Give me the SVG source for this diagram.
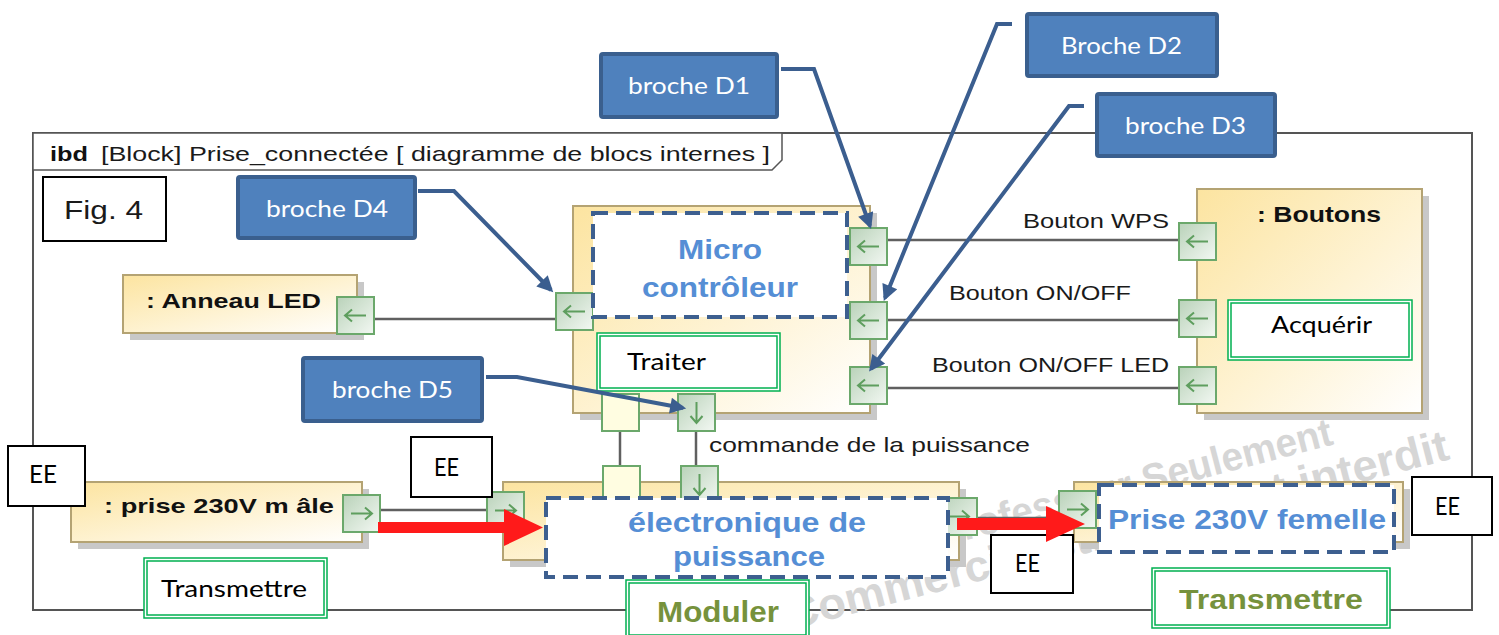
<svg xmlns="http://www.w3.org/2000/svg" width="1499" height="635" viewBox="0 0 1499 635">
<defs>
<linearGradient id="gBlk" x1="0" y1="0" x2="1" y2="1">
<stop offset="0" stop-color="#FCE4A0"/>
<stop offset="0.55" stop-color="#FEF3D4"/>
<stop offset="1" stop-color="#FFFFFF"/>
</linearGradient>
<linearGradient id="gPort" x1="0" y1="0" x2="1" y2="1">
<stop offset="0" stop-color="#B9D2B9"/>
<stop offset="1" stop-color="#F3F8F3"/>
</linearGradient>
<marker id="ah" viewBox="0 0 10 10" refX="8" refY="5" markerWidth="4.5" markerHeight="4" orient="auto" markerUnits="strokeWidth">
<path d="M0,0 L10,5 L0,10 z" fill="#3B5E8F"/>
</marker>
<style>
.frame{fill:none;stroke:#555;stroke-width:2}
.tab{fill:#fff;stroke:#555;stroke-width:1.5}
.shd{fill:#C8C8C8}
.blk{fill:url(#gBlk);stroke:#B4A373;stroke-width:2}
.port{fill:url(#gPort);stroke:#6BA86B;stroke-width:2}
.pplain{fill:#FFFDE1;stroke:#6BA86B;stroke-width:2}
.parr{fill:none;stroke:#5E9E5E;stroke-width:2}
.dash{fill:#fff;stroke:#3D5F8F;stroke-width:4;stroke-dasharray:15 8}
.gb{fill:#fff;stroke:#00B050;stroke-width:1.5}
.gbi{fill:none;stroke:#00B050;stroke-width:1.5}
.ee{fill:#fff;stroke:#000;stroke-width:2}
.call{fill:#4F81BD;stroke:#3A5F8E;stroke-width:4}
.blue{fill:none;stroke:#3B5E8F;stroke-width:4;marker-end:url(#ah)}
.conn{fill:none;stroke:#606060;stroke-width:2.5}
.red{fill:#FF1A1A}
.wm{font-family:"Liberation Sans",Arial,sans-serif;font-weight:bold;fill:#D6D6D6}
.ar{font-family:"Liberation Sans",Arial,sans-serif;fill:#1a1a1a}
.arb{font-family:"Liberation Sans",Arial,sans-serif;font-weight:bold;fill:#111}
.cal{font-family:Lato,"Open Sans",sans-serif;fill:#000}
.calw{font-family:Lato,"Open Sans",sans-serif;fill:#fff;font-size:24px}
.bl{font-family:"Liberation Sans",Arial,sans-serif;font-weight:bold;fill:#558ED5}
.ol{font-family:"Liberation Sans",Arial,sans-serif;font-weight:bold;fill:#76923C}
</style>
</defs>

<rect x="0" y="0" width="1499" height="635" fill="#fff"/>

<g id="frame">
<rect class="frame" x="33" y="133" width="1439" height="477"/>
<path class="tab" d="M33,133 H782 V160 L772,170 H33 Z"/>
<text class="arb" x="50" y="161" font-size="21" textLength="38" lengthAdjust="spacingAndGlyphs">ibd</text>
<text class="ar" x="101" y="161" font-size="21" textLength="669" lengthAdjust="spacingAndGlyphs">[Block] Prise_connectée [ diagramme de blocs internes ]</text>
</g>

<g id="watermark">
<text class="wm" x="940" y="547" font-size="40" transform="rotate(-14.6 940 547)" textLength="408" lengthAdjust="spacingAndGlyphs">Professeur Seulement</text>
<text class="wm" x="790" y="630" font-size="44" transform="rotate(-14.5 790 630)" textLength="683" lengthAdjust="spacingAndGlyphs">Commercial strictement interdit</text>
</g>

<g id="fig4">
<rect class="ee" x="43" y="177" width="123" height="64"/>
<text class="ar" x="64" y="219" font-size="26" fill="#000" textLength="79" lengthAdjust="spacingAndGlyphs">Fig. 4</text>
</g>

<g id="anneau-led">
<rect class="shd" x="130" y="282" width="234" height="58"/>
<rect class="blk" x="123" y="275" width="234" height="58"/>
<text class="arb" x="146" y="308" font-size="21" textLength="175" lengthAdjust="spacingAndGlyphs">: Anneau LED</text>
</g>

<g id="micro-controleur">
<rect class="shd" x="580" y="213" width="297" height="207"/>
<rect class="blk" x="573" y="206" width="297" height="207"/>
</g>

<g id="boutons">
<rect class="shd" x="1204" y="196" width="225" height="224"/>
<rect class="blk" x="1197" y="189" width="225" height="224"/>
<text class="arb" x="1257" y="222" font-size="22" textLength="124" lengthAdjust="spacingAndGlyphs">: Boutons</text>
</g>

<g id="prise-male">
<rect class="shd" x="78" y="489" width="291" height="60"/>
<rect class="blk" x="71" y="482" width="291" height="60"/>
<text class="arb" x="104" y="513" font-size="21" textLength="230" lengthAdjust="spacingAndGlyphs">: prise 230V m âle</text>
</g>

<g id="electronique-block">
<rect class="shd" x="510" y="489" width="456" height="78"/>
<rect class="blk" x="503" y="482" width="456" height="78"/>
</g>

<g id="prise-femelle-block">
<rect class="shd" x="1081" y="489" width="329" height="60"/>
<rect class="blk" x="1074" y="482" width="329" height="60"/>
</g>

<g id="connectors">
<path class="conn" d="M375,319 H556"/>
<path class="conn" d="M887,240 H1179"/>
<path class="conn" d="M887,320 H1179"/>
<path class="conn" d="M887,388 H1179"/>
<path class="conn" d="M620,431 V466"/>
<path class="conn" d="M696,431 V466"/>
<path class="conn" d="M379,510 H487"/>
<path class="conn" d="M977,518 H1059"/>
<text class="ar" x="1023" y="228" font-size="21" textLength="146" lengthAdjust="spacingAndGlyphs">Bouton WPS</text>
<text class="ar" x="949" y="300" font-size="21" textLength="182" lengthAdjust="spacingAndGlyphs">Bouton ON/OFF</text>
<text class="ar" x="932" y="372" font-size="21" textLength="237" lengthAdjust="spacingAndGlyphs">Bouton ON/OFF LED</text>
<text class="ar" x="709" y="452" font-size="21" textLength="321" lengthAdjust="spacingAndGlyphs">commande de la puissance</text>
</g>

<g id="ports">
<rect class="port" x="337" y="297" width="37" height="37"/>
<path class="parr" d="M366,315.5 H345 M352,309.5 L345,315.5 L352,321.5"/>
<rect class="port" x="556" y="293" width="37" height="37"/>
<path class="parr" d="M585,311.5 H564 M571,305.5 L564,311.5 L571,317.5"/>
<rect class="port" x="850" y="228" width="37" height="37"/>
<path class="parr" d="M879,246.5 H858 M865,240.5 L858,246.5 L865,252.5"/>
<rect class="port" x="850" y="302" width="37" height="37"/>
<path class="parr" d="M879,320.5 H858 M865,314.5 L858,320.5 L865,326.5"/>
<rect class="port" x="850" y="367" width="37" height="37"/>
<path class="parr" d="M879,385.5 H858 M865,379.5 L858,385.5 L865,391.5"/>
<rect class="port" x="1179" y="223" width="37" height="37"/>
<path class="parr" d="M1208,241.5 H1187 M1194,235.5 L1187,241.5 L1194,247.5"/>
<rect class="port" x="1179" y="300" width="37" height="37"/>
<path class="parr" d="M1208,318.5 H1187 M1194,312.5 L1187,318.5 L1194,324.5"/>
<rect class="port" x="1179" y="367" width="37" height="37"/>
<path class="parr" d="M1208,385.5 H1187 M1194,379.5 L1187,385.5 L1194,391.5"/>
<rect class="pplain" x="602" y="394" width="37" height="37"/>
<rect class="port" x="678" y="394" width="37" height="37"/>
<path class="parr" d="M696.5,402 V423 M690.5,416 L696.5,423 L702.5,416"/>
<rect class="pplain" x="603" y="466" width="37" height="37"/>
<rect class="port" x="681" y="466" width="37" height="37"/>
<path class="parr" d="M699.5,474 V495 M693.5,488 L699.5,495 L705.5,488"/>
<rect class="port" x="343" y="495" width="37" height="37"/>
<path class="parr" d="M351,513.5 H372 M365,507.5 L372,513.5 L365,519.5"/>
<rect class="port" x="487" y="492" width="37" height="37"/>
<path class="parr" d="M495,510.5 H516 M509,504.5 L516,510.5 L509,516.5"/>
<rect class="port" x="940" y="498" width="37" height="37"/>
<path class="parr" d="M948,516.5 H969 M962,510.5 L969,516.5 L962,522.5"/>
<rect class="port" x="1059" y="491" width="37" height="37"/>
<path class="parr" d="M1067,509.5 H1088 M1081,503.5 L1088,509.5 L1081,515.5"/>
</g>

<g id="micro-label">
<rect class="dash" x="593" y="213" width="254" height="104"/>
<text class="bl" x="678" y="259" font-size="28" textLength="84" lengthAdjust="spacingAndGlyphs">Micro</text>
<text class="bl" x="642" y="297" font-size="28" textLength="156" lengthAdjust="spacingAndGlyphs">contrôleur</text>
</g>

<g id="electronique-label">
<rect class="dash" x="546" y="498" width="402" height="79"/>
<text class="bl" x="628" y="532" font-size="27" textLength="238" lengthAdjust="spacingAndGlyphs">électronique de</text>
<text class="bl" x="673" y="566" font-size="27" textLength="152" lengthAdjust="spacingAndGlyphs">puissance</text>
</g>

<g id="prise-femelle-label">
<rect class="dash" x="1099" y="485" width="295" height="67"/>
<text class="bl" x="1108" y="529" font-size="27" textLength="278" lengthAdjust="spacingAndGlyphs">Prise 230V femelle</text>
</g>

<g id="traiter">
<rect class="gb" x="597" y="333" width="183" height="58"/>
<rect class="gbi" x="600" y="336" width="177" height="52"/>
<text class="cal" x="627" y="370" font-size="23" textLength="79" lengthAdjust="spacingAndGlyphs">Traiter</text>
</g>

<g id="acquerir">
<rect class="gb" x="1228" y="300" width="184" height="60"/>
<rect class="gbi" x="1231" y="303" width="178" height="54"/>
<text class="cal" x="1271" y="333" font-size="23" textLength="101" lengthAdjust="spacingAndGlyphs">Acquérir</text>
</g>

<g id="transmettre-1">
<rect class="gb" x="144" y="558" width="183" height="60"/>
<rect class="gbi" x="147" y="561" width="177" height="54"/>
<text class="cal" x="161" y="597" font-size="23" textLength="146" lengthAdjust="spacingAndGlyphs">Transmettre</text>
</g>

<g id="moduler">
<rect class="gb" x="626" y="580" width="183" height="58"/>
<rect class="gbi" x="629" y="583" width="177" height="52"/>
<text class="ol" x="657" y="622" font-size="29" textLength="122" lengthAdjust="spacingAndGlyphs">Moduler</text>
</g>

<g id="transmettre-2">
<rect class="gb" x="1152" y="568" width="238" height="60"/>
<rect class="gbi" x="1155" y="571" width="232" height="54"/>
<text class="ol" x="1179" y="609" font-size="28" textLength="184" lengthAdjust="spacingAndGlyphs">Transmettre</text>
</g>

<g id="ee-1">
<rect class="ee" x="8" y="446" width="77" height="60"/>
<text class="cal" x="29" y="483" font-size="25" textLength="28" lengthAdjust="spacingAndGlyphs">EE</text>
</g>
<g id="ee-2">
<rect class="ee" x="411" y="437" width="81" height="60"/>
<text class="cal" x="434" y="476" font-size="25" textLength="25" lengthAdjust="spacingAndGlyphs">EE</text>
</g>
<g id="ee-3">
<rect class="ee" x="991" y="535" width="82" height="58"/>
<text class="cal" x="1015" y="572" font-size="25" textLength="25" lengthAdjust="spacingAndGlyphs">EE</text>
</g>
<g id="ee-4">
<rect class="ee" x="1412" y="477" width="80" height="58"/>
<text class="cal" x="1435" y="515" font-size="25" textLength="25" lengthAdjust="spacingAndGlyphs">EE</text>
</g>

<g id="red-arrows">
<path class="red" d="M378,522 H504 V509 L543,527.5 L504,546 V533 H378 Z"/>
<path class="red" d="M957,518 H1046 V506 L1085,524 L1046,542 V530 H957 Z"/>
</g>

<g id="pin-arrows">
<path class="blue" d="M418,191 H454 L551,290"/>
<path class="blue" d="M781,69 H814 L870,226"/>
<path class="blue" d="M1012,24 H997 L885,298"/>
<path class="blue" d="M1084,106 H1069 L871,369"/>
<path class="blue" d="M486,377 H517 L683,408"/>
</g>

<g id="broche-d4">
<rect class="call" x="238" y="177" width="177" height="61" rx="2"/>
<text class="calw" x="266" y="217" textLength="122" lengthAdjust="spacingAndGlyphs">broche D4</text>
</g>
<g id="broche-d1">
<rect class="call" x="601" y="54" width="176" height="63" rx="2"/>
<text class="calw" x="628" y="94" textLength="122" lengthAdjust="spacingAndGlyphs">broche D1</text>
</g>
<g id="broche-d2">
<rect class="call" x="1027" y="14" width="190" height="62" rx="2"/>
<text class="calw" x="1061" y="54" textLength="121" lengthAdjust="spacingAndGlyphs">Broche D2</text>
</g>
<g id="broche-d3">
<rect class="call" x="1097" y="94" width="178" height="62" rx="2"/>
<text class="calw" x="1125" y="134" textLength="121" lengthAdjust="spacingAndGlyphs">broche D3</text>
</g>
<g id="broche-d5">
<rect class="call" x="303" y="358" width="179" height="63" rx="2"/>
<text class="calw" x="332" y="398" textLength="121" lengthAdjust="spacingAndGlyphs">broche D5</text>
</g>
</svg>
